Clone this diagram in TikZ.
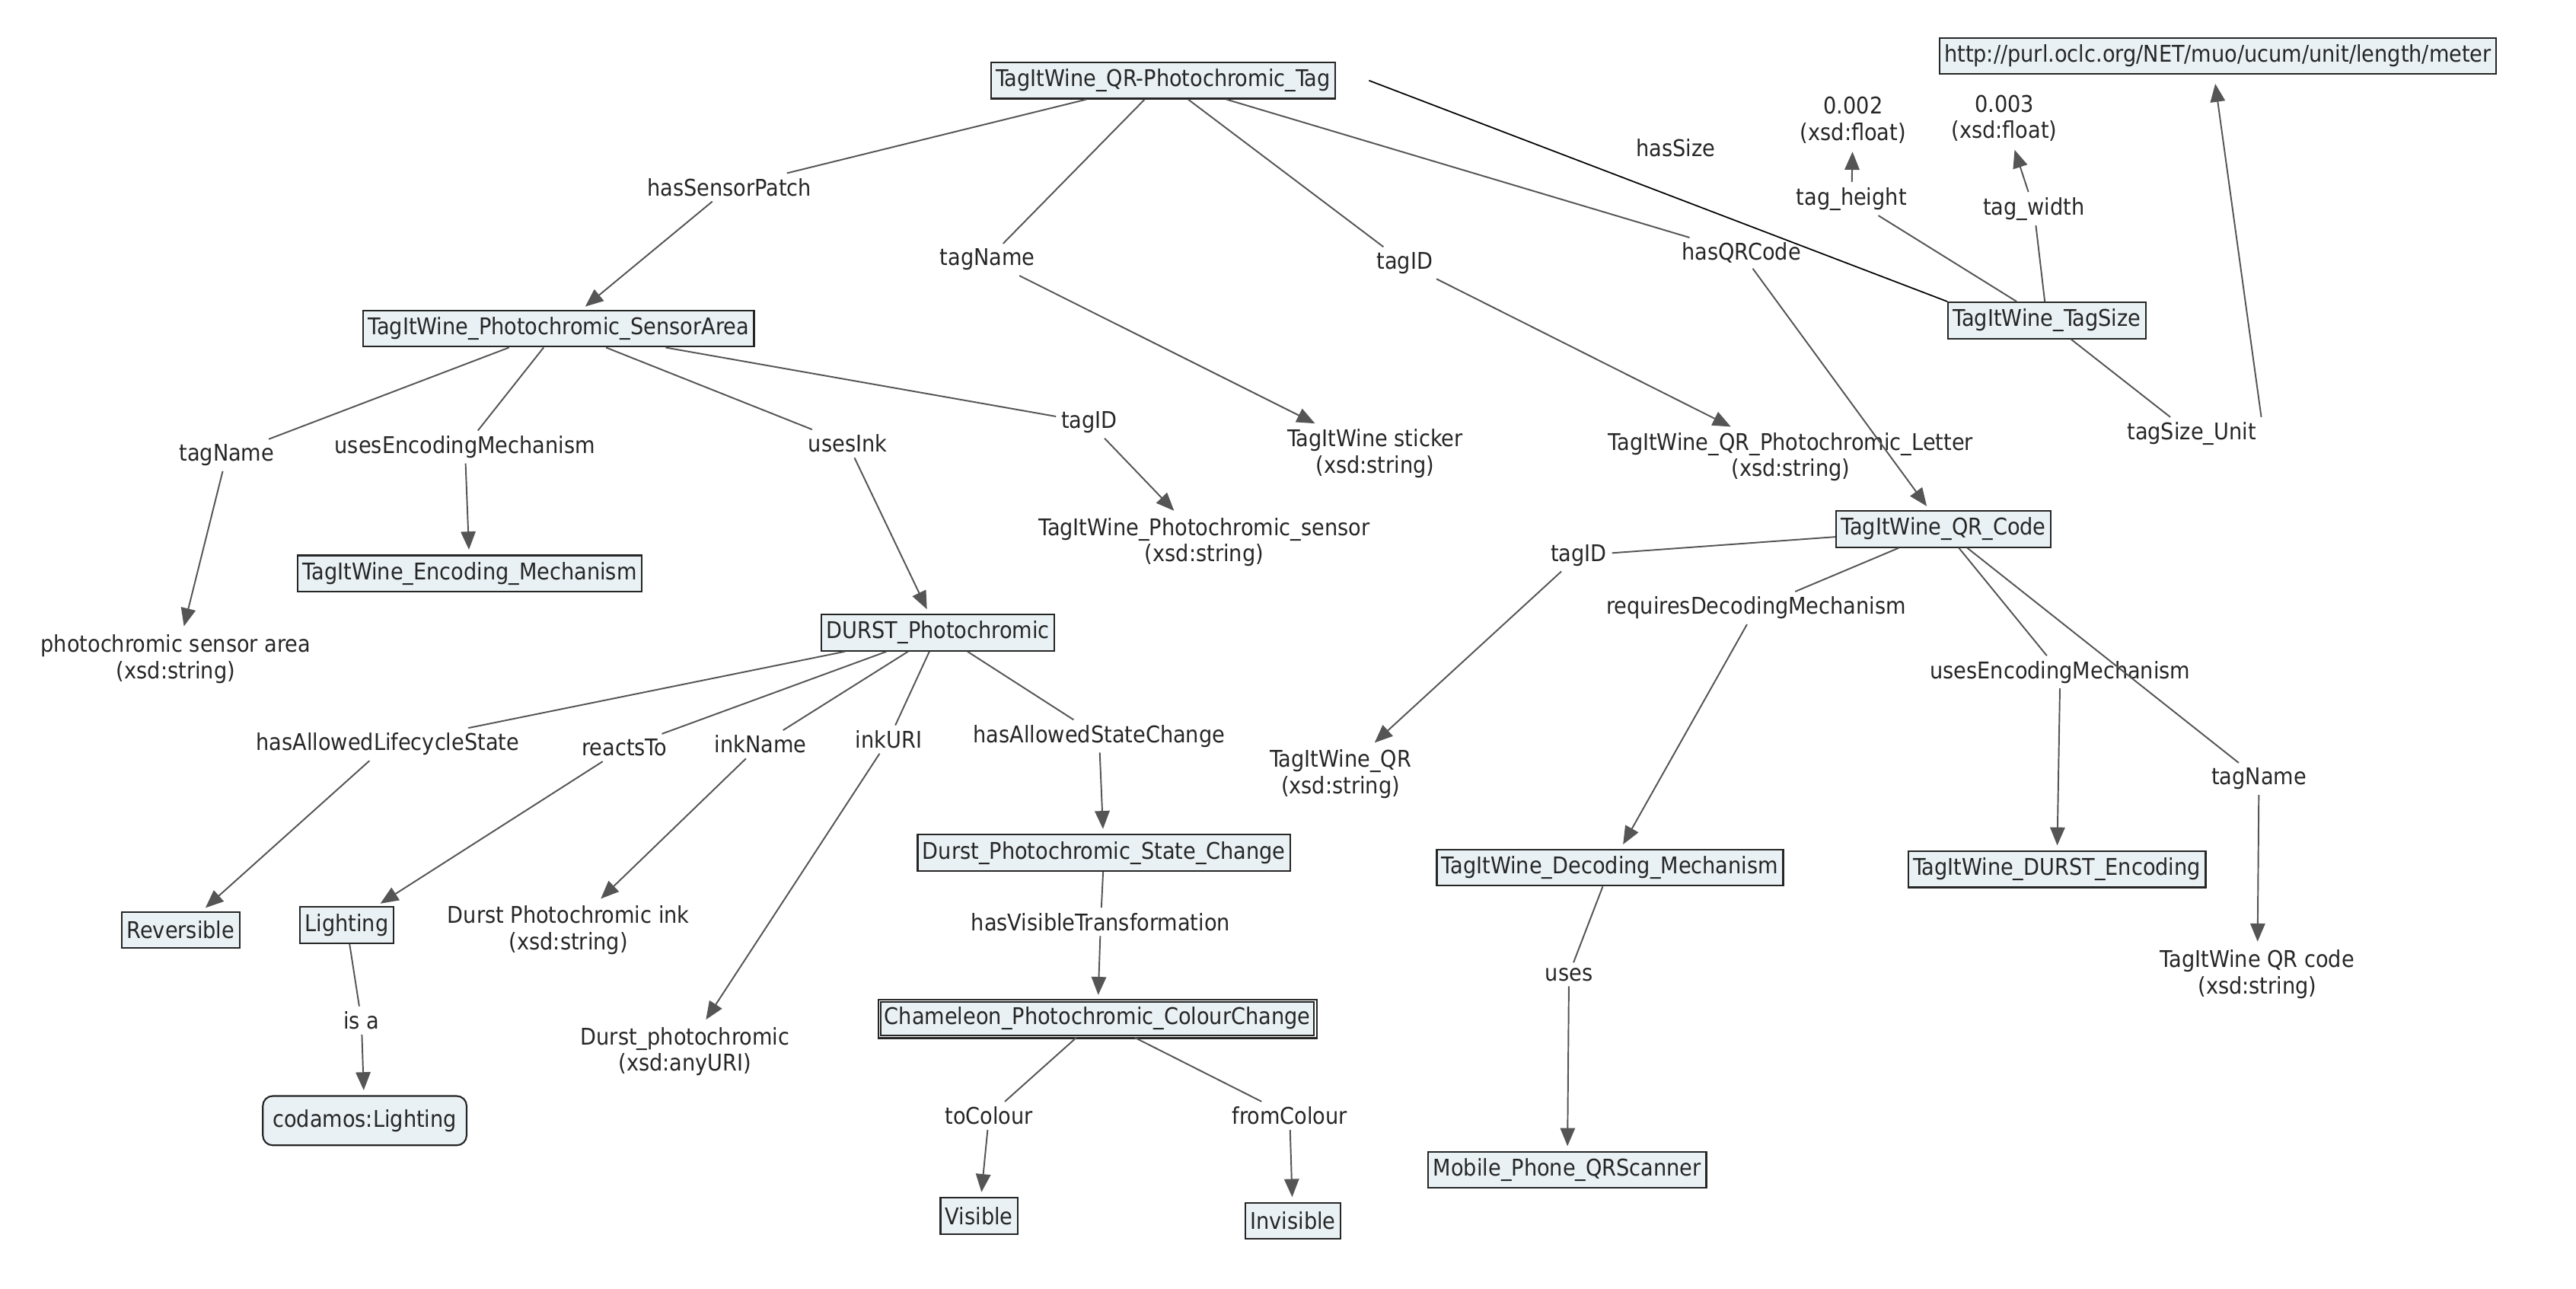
\documentclass[tikz,border=0pt]{standalone}
\usepackage{fontspec}
\setmainfont{DejaVu Sans Condensed}
\usetikzlibrary{arrows.meta}
\definecolor{cfill}{HTML}{E9F1F4}
\definecolor{lgray}{HTML}{555555}
\tikzset{
 every node/.style={font=\fontsize{14}{16}\selectfont, text=black!85},
 con/.style={draw=black!85, line width=1pt, fill=cfill, inner sep=3pt, minimum height=22pt},
 lit/.style={align=center, inner sep=2pt},
 lab/.style={inner sep=3pt, fill=white},
 ln/.style={draw=lgray, line width=0.9pt},
 arr/.style={ln, -{Triangle[length=11pt,width=9pt]}, shorten >=3pt},
}
\newcommand{\lnk}[3]{\draw[ln] (#1) -- (#2); \draw[arr] (#2) -- (#3);}
\begin{document}
\begin{tikzpicture}[x=1pt,y=-1pt]
\useasboundingbox (0,0) rectangle (1568,784);
% concepts
\node[con] (T) at (708,49) {TagItWine\_QR-Photochromic\_Tag};
\node[con] (SA) at (340,200) {TagItWine\_Photochromic\_SensorArea};
\node[con] (EM) at (286,349) {TagItWine\_Encoding\_Mechanism};
\node[con] (DP) at (571,385) {DURST\_Photochromic};
\node[con] (Rev) at (110,566) {Reversible};
\node[con] (Lig) at (211,563) {Lighting};
\node[con,rounded corners=6pt,minimum height=30pt,inner sep=6pt] (cod) at (222,682) {codamos:Lighting};
\node[con] (DSC) at (672,519) {Durst\_Photochromic\_State\_Change};
\node[con,double,double distance=0.6pt] (CC) at (668,620) {Chameleon\_Photochromic\_ColourChange};
\node[con] (Vis) at (596,740) {Visible};
\node[con] (Inv) at (787,743) {Invisible};
\node[con] (QR) at (1183,322) {TagItWine\_QR\_Code};
\node[con] (DM) at (980,528) {TagItWine\_Decoding\_Mechanism};
\node[con] (MP) at (954,712) {Mobile\_Phone\_QRScanner};
\node[con] (DE) at (1252,529) {TagItWine\_DURST\_Encoding};
\node[con] (TS) at (1246,195) {TagItWine\_TagSize};
\node[con] (URL) at (1350,34) {http://purl.oclc.org/NET/muo/ucum/unit/length/meter};
% literals
\node[lit] (L1) at (107,401) {photochromic sensor area\\(xsd:string)};
\node[lit] (L2) at (837,276) {TagItWine sticker\\(xsd:string)};
\node[lit] (L3) at (733,330) {TagItWine\_Photochromic\_sensor\\(xsd:string)};
\node[lit] (L4) at (1090,278) {TagItWine\_QR\_Photochromic\_Letter\\(xsd:string)};
\node[lit] (L5) at (346,566) {Durst Photochromic ink\\(xsd:string)};
\node[lit] (L6) at (417,640) {Durst\_photochromic\\(xsd:anyURI)};
\node[lit] (L7) at (816,471) {TagItWine\_QR\\(xsd:string)};
\node[lit] (L8) at (1374,593) {TagItWine QR code\\(xsd:string)};
\node[lit] (L9) at (1128,73) {0.002\\(xsd:float)};
\node[lit] (L10) at (1220,72) {0.003\\(xsd:float)};
% link labels
\node[lab] (a1) at (444,114) {hasSensorPatch};
\node[lab] (a2) at (601,158) {tagName};
\node[lab] (a3) at (855,160) {tagID};
\node[lab] (a4) at (1060,154) {hasQRCode};
\node[lab] (a5) at (1020,90) {hasSize};
\node[lab] (b1) at (138,277) {tagName};
\node[lab] (b2) at (283,272) {usesEncodingMechanism};
\node[lab] (b3) at (516,270) {usesInk};
\node[lab] (b4) at (663,257) {tagID};
\node[lab] (c1) at (236,453) {hasAllowedLifecycleState};
\node[lab] (c2) at (380,455) {reactsTo};
\node[lab] (c3) at (463,453) {inkName};
\node[lab] (c4) at (541,450) {inkURI};
\node[lab] (c5) at (669,448) {hasAllowedStateChange};
\node[lab] (d1) at (220,621) {is a};
\node[lab] (d2) at (670,561) {hasVisibleTransformation};
\node[lab] (d3) at (602,679) {toColour};
\node[lab] (d4) at (785,679) {fromColour};
\node[lab] (e1) at (961,338) {tagID};
\node[lab] (e2) at (1069,370) {requiresDecodingMechanism};
\node[lab] (e3) at (1254,409) {usesEncodingMechanism};
\node[lab] (e4) at (1375,474) {tagName};
\node[lab] (e5) at (955,593) {uses};
\node[lab] (f1) at (1127,121) {tag\_height};
\node[lab] (f2) at (1238,127) {tag\_width};
\node[lab] (f3) at (1334,264) {tagSize\_Unit};
% connectors
\lnk{T}{a1}{SA}
\lnk{T}{a2}{L2}
\lnk{T}{a3}{L4}
\lnk{T}{a4}{QR}
\draw[line width=0.8pt,black] ([xshift=20pt]T.east) -- (TS.north west);
\lnk{SA}{b1}{L1}
\lnk{SA}{b2}{EM}
\lnk{SA}{b3}{DP}
\lnk{SA}{b4}{L3}
\lnk{DP}{c1}{Rev}
\lnk{DP}{c2}{Lig}
\lnk{DP}{c3}{L5}
\lnk{DP}{c4}{L6}
\lnk{DP}{c5}{DSC}
\lnk{Lig}{d1}{cod}
\lnk{DSC}{d2}{CC}
\lnk{CC}{d3}{Vis}
\lnk{CC}{d4}{Inv}
\lnk{QR}{e1}{L7}
\lnk{QR}{e2}{DM}
\lnk{QR}{e3}{DE}
\lnk{QR}{e4}{L8}
\lnk{DM}{e5}{MP}
\lnk{TS}{f1}{L9}
\lnk{TS}{f2}{L10}
\draw[ln] (TS) -- (f3);
\draw[arr] (f3.north east) -- (1348,48);
\end{tikzpicture}
\end{document}
